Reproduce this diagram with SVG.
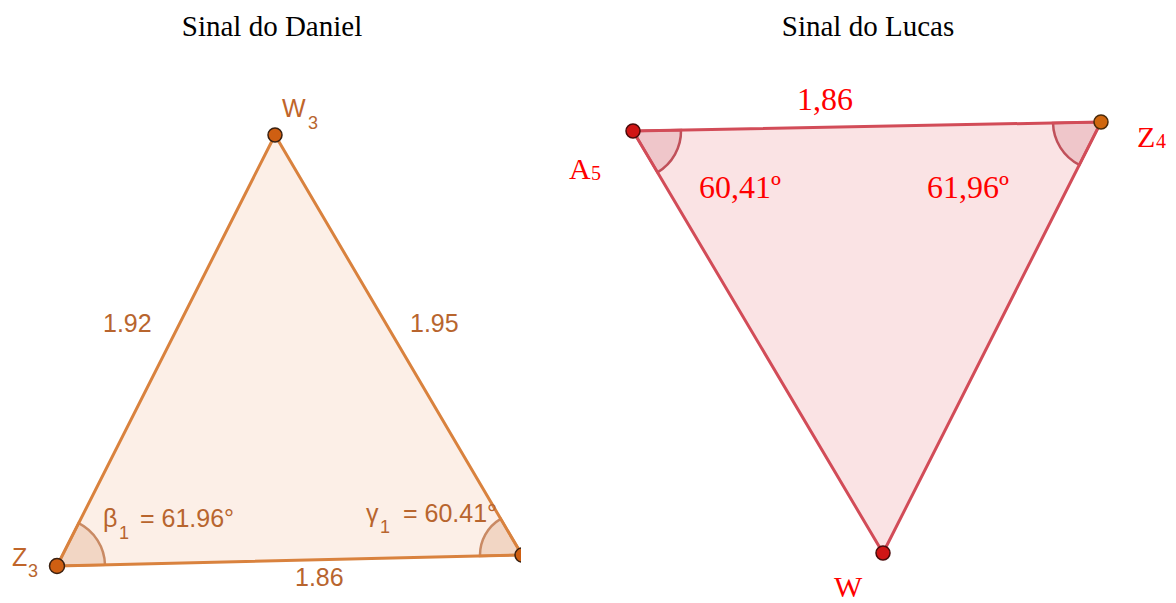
<svg xmlns="http://www.w3.org/2000/svg" width="1176" height="603" viewBox="0 0 1176 603">
<defs>
<style>
.title{font-family:"Liberation Sans",serif;font-size:29px;fill:#000;text-anchor:middle}
.title{font-family:"Liberation Serif",serif}
.ltxt{font-family:"Liberation Sans",Arial,sans-serif;font-size:25px;fill:#b8652e}
.lnode{font-family:"Liberation Sans",Arial,sans-serif;font-size:25px;fill:#c0652a}
.lsub{font-family:"Liberation Sans",Arial,sans-serif;font-size:18px;fill:#b8652e}
.rtxt{font-family:"Liberation Serif",serif;font-size:32px;fill:#ff0000}
.rnode{font-family:"Liberation Serif",serif;font-size:30px;fill:#ff0000}
.rsub{font-family:"Liberation Serif",serif;font-size:20px;fill:#ff0000}
.ledge{fill:none;stroke:#d9823e;stroke-width:3;stroke-linejoin:round}
.redge{fill:none;stroke:#d24c58;stroke-width:3;stroke-linejoin:round}
.larc{fill:#f2d6c4;stroke:#c98a64;stroke-width:2.5}
.rarc{fill:#efc6ca;stroke:#c0505a;stroke-width:2.5}
</style>
<clipPath id="leftclip"><rect x="0" y="0" width="521" height="603"/></clipPath>
</defs>
<rect width="1176" height="603" fill="#ffffff"/>
<text class="title" x="272" y="36">Sinal do Daniel</text>
<text class="title" x="868" y="36">Sinal do Lucas</text>

<g id="left-triangle" clip-path="url(#leftclip)">
<polygon points="275,135 57,566 522,555" fill="#fcefe7"/>
<path class="larc" d="M57,566 L105,564.9 A48,48 0 0 0 78.6,523.2 Z"/>
<path class="larc" d="M522,555 L500.7,518.8 A42,42 0 0 0 480,556 Z"/>
<polygon class="ledge" points="275,135 57,566 522,555"/>
</g>
<g id="node-W3">
<circle cx="275" cy="135" r="7" fill="#cf5f12" stroke="#3a2010" stroke-width="1.5"/>
<text class="lnode" x="282" y="117">W</text><text class="lsub" x="308" y="129">3</text>
</g>
<g id="node-Z3">
<circle cx="57" cy="566" r="7.5" fill="#cf5f12" stroke="#3a2010" stroke-width="1.5"/>
<text class="lnode" x="12" y="566">Z</text><text class="lsub" x="28" y="577">3</text>
</g>
<g id="node-right-vertex" clip-path="url(#leftclip)">
<circle cx="522" cy="555" r="7" fill="#cf5f12" stroke="#3a2010" stroke-width="1.5"/>
</g>
<g id="left-labels">
<text class="ltxt" x="103" y="332">1.92</text>
<text class="ltxt" x="410" y="332">1.95</text>
<text class="ltxt" x="295" y="586">1.86</text>
<text class="ltxt" x="103" y="527">β</text><text class="lsub" x="119" y="539">1</text>
<text class="ltxt" x="140" y="527">= 61.96°</text>
<g clip-path="url(#leftclip)">
<text class="ltxt" x="366" y="522">γ</text><text class="lsub" x="380" y="533">1</text>
<text class="ltxt" x="403" y="522">= 60.41°</text>
</g>
</g>

<g id="right-triangle">
<polygon points="633,131 1101,122 883,553" fill="#fae3e4"/>
<path class="rarc" d="M633,131 L681,130 A48,48 0 0 1 657.5,172.3 Z"/>
<path class="rarc" d="M1101,122 L1079.4,164.8 A48,48 0 0 1 1053,123 Z"/>
<polygon class="redge" points="633,131 1101,122 883,553"/>
</g>
<g id="node-A5">
<circle cx="633" cy="131" r="7" fill="#d01515" stroke="#4a0a0a" stroke-width="1.5"/>
<text class="rnode" x="569" y="179">A</text><text class="rsub" x="591" y="180">5</text>
</g>
<g id="node-Z4">
<circle cx="1101" cy="122" r="7" fill="#d0670f" stroke="#4a2a0a" stroke-width="1.5"/>
<text class="rnode" x="1137" y="147">Z</text><text class="rsub" x="1156" y="148">4</text>
</g>
<g id="node-W">
<circle cx="883" cy="553" r="7" fill="#d01515" stroke="#4a0a0a" stroke-width="1.5"/>
<text class="rnode" x="834" y="597">W</text>
</g>
<g id="right-labels">
<text class="rtxt" x="797" y="110">1,86</text>
<text class="rtxt" x="699" y="198">60,41º</text>
<text class="rtxt" x="927" y="198">61,96º</text>
</g>
</svg>
